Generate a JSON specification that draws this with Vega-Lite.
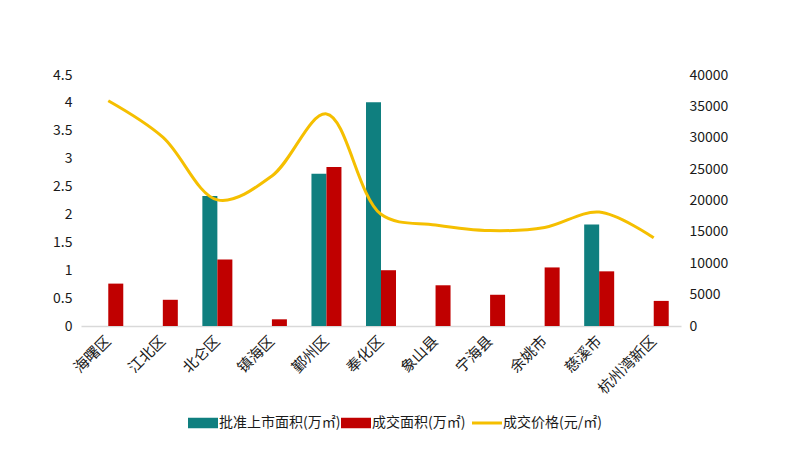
{
  "$schema": "https://vega.github.io/schema/vega-lite/v6.json",
  "width": 600,
  "height": 251,
  "autosize": {"type": "none"},
  "padding": {"left": 81, "top": 75, "right": 119, "bottom": 127},
  "background": "white",
  "config": {
    "font": "Noto Sans CJK SC",
    "view": {"stroke": null},
    "axis": {"labelFont": "Noto Sans CJK SC", "labelColor": "#1a1a1a", "labelFontSize": 14, "grid": false, "ticks": false, "domain": false, "title": null}
  },
  "data": {
    "values": [
      {"district": "海曙区", "series": "成交面积(万㎡)", "value": 0.76},
      {"district": "江北区", "series": "成交面积(万㎡)", "value": 0.47},
      {"district": "北仑区", "series": "批准上市面积(万㎡)", "value": 2.33},
      {"district": "北仑区", "series": "成交面积(万㎡)", "value": 1.19},
      {"district": "镇海区", "series": "成交面积(万㎡)", "value": 0.12},
      {"district": "鄞州区", "series": "批准上市面积(万㎡)", "value": 2.73},
      {"district": "鄞州区", "series": "成交面积(万㎡)", "value": 2.85},
      {"district": "奉化区", "series": "批准上市面积(万㎡)", "value": 4.01},
      {"district": "奉化区", "series": "成交面积(万㎡)", "value": 1.0},
      {"district": "象山县", "series": "成交面积(万㎡)", "value": 0.73},
      {"district": "宁海县", "series": "成交面积(万㎡)", "value": 0.56},
      {"district": "余姚市", "series": "成交面积(万㎡)", "value": 1.05},
      {"district": "慈溪市", "series": "批准上市面积(万㎡)", "value": 1.82},
      {"district": "慈溪市", "series": "成交面积(万㎡)", "value": 0.98},
      {"district": "杭州湾新区", "series": "成交面积(万㎡)", "value": 0.45},
      {"district": "海曙区", "series": "成交价格(元/㎡)", "value": 35900},
      {"district": "江北区", "series": "成交价格(元/㎡)", "value": 30100},
      {"district": "北仑区", "series": "成交价格(元/㎡)", "value": 20100},
      {"district": "镇海区", "series": "成交价格(元/㎡)", "value": 23900},
      {"district": "鄞州区", "series": "成交价格(元/㎡)", "value": 33800},
      {"district": "奉化区", "series": "成交价格(元/㎡)", "value": 17800},
      {"district": "象山县", "series": "成交价格(元/㎡)", "value": 16100},
      {"district": "宁海县", "series": "成交价格(元/㎡)", "value": 15200},
      {"district": "余姚市", "series": "成交价格(元/㎡)", "value": 15700},
      {"district": "慈溪市", "series": "成交价格(元/㎡)", "value": 18150},
      {"district": "杭州湾新区", "series": "成交价格(元/㎡)", "value": 14050}
    ]
  },
  "encoding": {
    "x": {
      "field": "district",
      "type": "nominal",
      "sort": ["海曙区", "江北区", "北仑区", "镇海区", "鄞州区", "奉化区", "象山县", "宁海县", "余姚市", "慈溪市", "杭州湾新区"],
      "scale": {"paddingInner": 0.45, "paddingOuter": 0.225},
      "axis": {"labelAngle": -45, "labelAlign": "right", "labelBaseline": "middle", "labelPadding": 12, "labelFontSize": 15, "domain": true, "domainColor": "#d9d9d9", "domainWidth": 1.5, "title": null}
    },
    "color": {
      "field": "series",
      "type": "nominal",
      "scale": {"domain": ["批准上市面积(万㎡)", "成交面积(万㎡)", "成交价格(元/㎡)"], "range": ["#0F7F7F", "#C00000", "#F5BF00"]},
      "legend": {
        "orient": "none",
        "direction": "horizontal",
        "legendX": 115,
        "legendY": 341,
        "title": null,
        "labelFont": "Noto Sans CJK SC",
        "labelFontSize": 14,
        "labelColor": "#1a1a1a",
        "symbolSize": 900,
        "labelOffset": 9,
        "columnPadding": 0,
        "encode": {
          "symbols": {
            "update": {
              "shape": {"signal": "datum.value === '成交价格(元/㎡)' ? 'stroke' : 'M-1,-0.35H1V0.35H-1Z'"},
              "fill": {"signal": "datum.value === '成交价格(元/㎡)' ? 'transparent' : scale('color', datum.value)"},
              "stroke": {"signal": "scale('color', datum.value)"},
              "strokeWidth": {"signal": "datum.value === '成交价格(元/㎡)' ? 3 : 0"},
              "opacity": {"value": 1},
              "fillOpacity": {"value": 1},
              "strokeOpacity": {"value": 1}
            }
          }
        }
      }
    }
  },
  "layer": [
    {
      "transform": [{"filter": "datum.series !== '成交价格(元/㎡)'"}],
      "mark": {"type": "bar"},
      "encoding": {
        "xOffset": {"field": "series", "type": "nominal", "scale": {"domain": ["批准上市面积(万㎡)", "成交面积(万㎡)"], "paddingInner": 0, "paddingOuter": 0}},
        "y": {
          "field": "value",
          "type": "quantitative",
          "scale": {"domain": [0, 4.5], "nice": false},
          "axis": {"values": [0, 0.5, 1, 1.5, 2, 2.5, 3, 3.5, 4, 4.5], "labelExpr": "'' + datum.value", "labelPadding": 9, "title": null}
        }
      }
    },
    {
      "transform": [{"filter": "datum.series === '成交价格(元/㎡)'"}],
      "mark": {"type": "line", "interpolate": "catmull-rom", "strokeWidth": 3},
      "encoding": {
        "y": {
          "field": "value",
          "type": "quantitative",
          "scale": {"domain": [0, 40000], "nice": false},
          "axis": {"orient": "right", "values": [0, 5000, 10000, 15000, 20000, 25000, 30000, 35000, 40000], "format": "d", "labelPadding": 8, "title": null}
        }
      }
    }
  ],
  "resolve": {"scale": {"y": "independent"}}
}
